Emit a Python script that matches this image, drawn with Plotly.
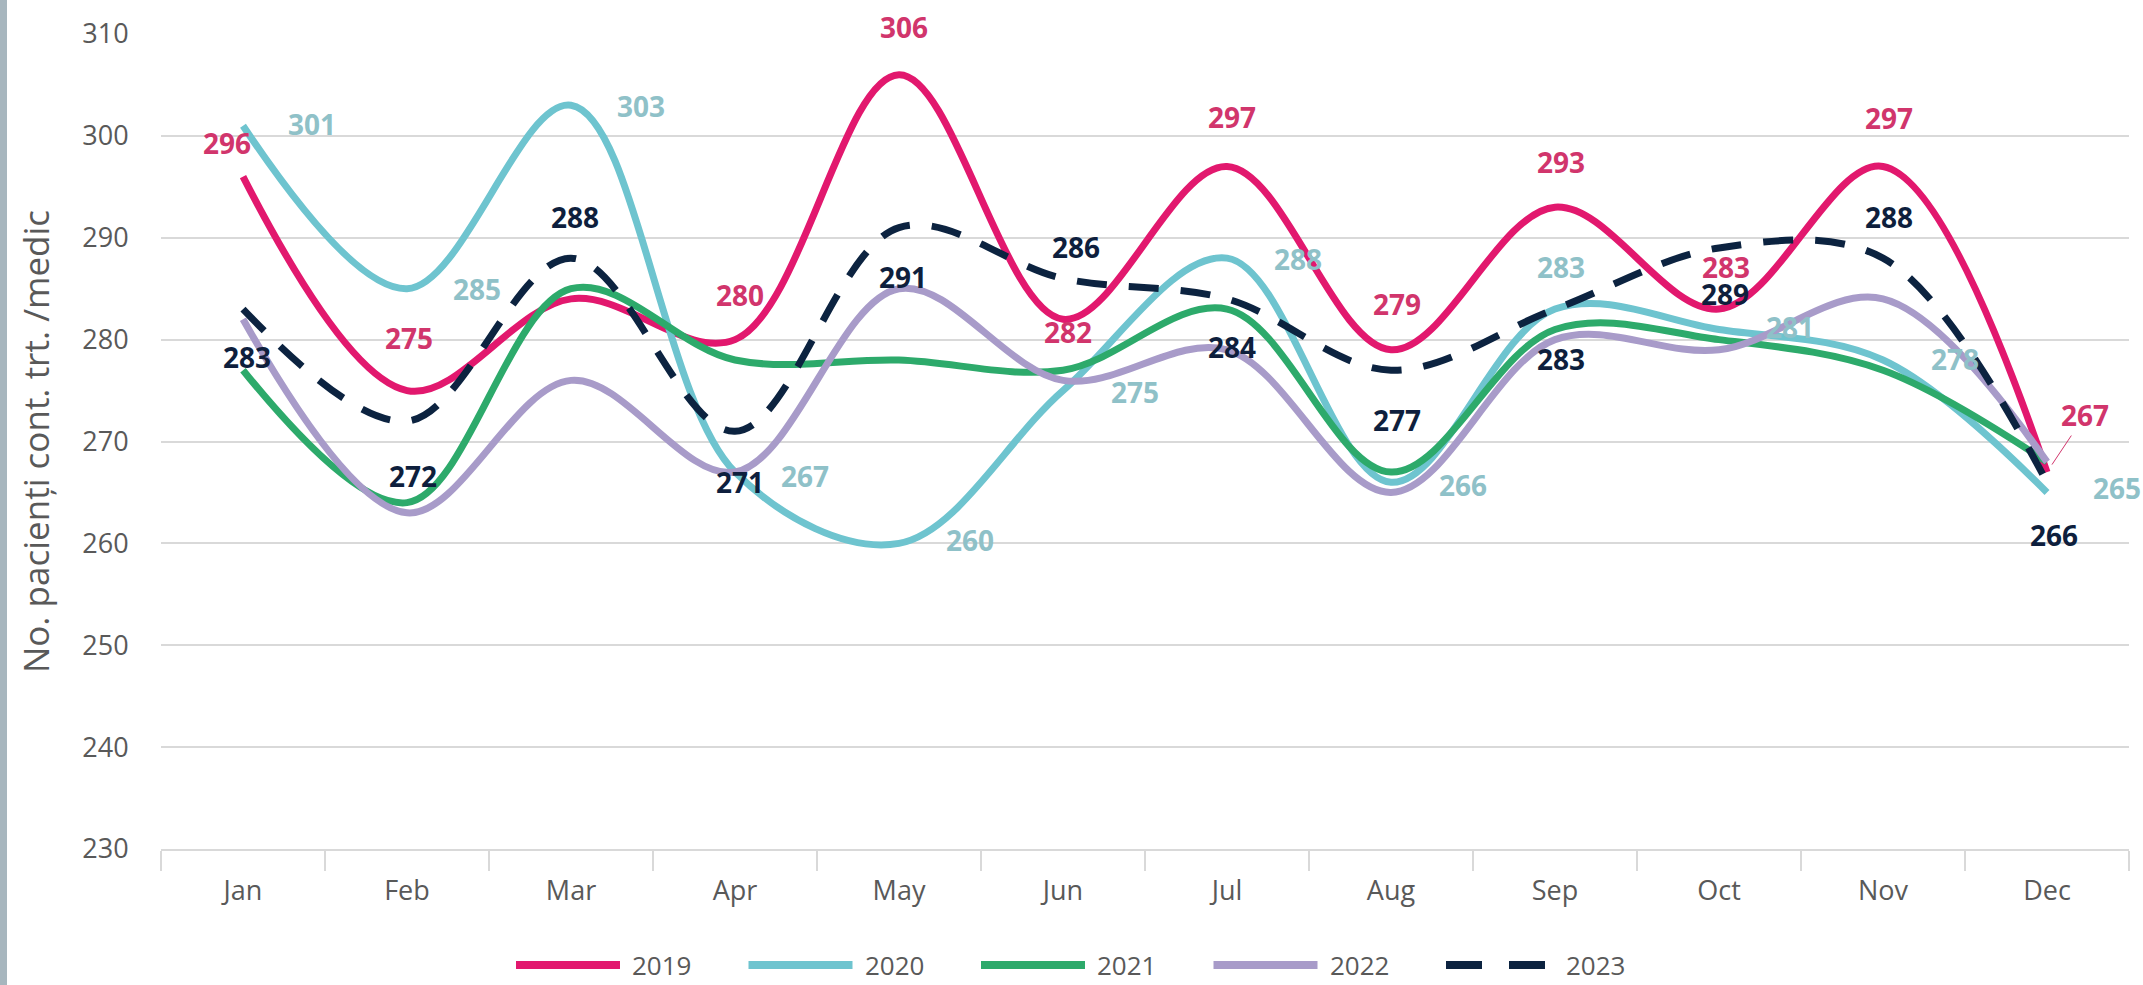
import plotly.graph_objects as go

# ---------------- data ----------------
months = ["Jan", "Feb", "Mar", "Apr", "May", "Jun", "Jul", "Aug", "Sep", "Oct", "Nov", "Dec"]
years = ["2019", "2020", "2021", "2022", "2023"]

v2019 = [296, 275, 284, 280, 306, 282, 297, 279, 293, 283, 297, 267]
v2020 = [301, 285, 303, 267, 260, 275, 288, 266, 283, 281, 278, 265]
v2021 = [277, 264, 285, 278, 278, 277, 283, 267, 281, 280, 277, 268]
v2022 = [282, 263, 276, 267, 285, 276, 279, 265, 280, 279, 284, 268]
v2023 = [283, 272, 288, 271, 291, 286, 284, 277, 283, 289, 288, 266]

y_ticks = [230, 240, 250, 260, 270, 280, 290, 300, 310]
y_title = "No. pacienți cont. trt. /medic"

# ---------------- styles ----------------
line_colors = ["#E2186E", "#6EC4CF", "#2DAA6B", "#A89BC9", "#0C2340"]
label_colors = ["#D1356C", "#8FC1C8", "#2DAA6B", "#A89BC9", "#0E1F3D"]
dashes = ["solid", "solid", "solid", "solid", "30px,22px"]
legend_dashes = ["solid", "solid", "solid", "solid", "36px,27px"]
widths = [7, 7, 7, 7, 7]

# label offsets in pixels (dx right, dy down); None = no label
off2019 = [(-16, -34), (2, -53), None, (5, -45), (5, -48), (5, 13), (5, -49), (6, -46),
           (6, -45), (7, -42), (6, -48), "leader"]
off2020 = [(69, -2), (70, 0), (70, 1), (70, 4), (71, -3), (72, 1), (71, 1), (72, 3),
           (6, -42), (71, -2), (72, -1), (70, -4)]
off2021 = [None] * 12
off2022 = [None] * 12
off2023 = [(4, 48), (6, 55), (4, -41), (5, 51), (4, 49), (13, -32), (5, 48), (6, 50),
           (6, 50), (6, 46), (6, -41), (7, 53)]

series = [v2019, v2020, v2021, v2022, v2023]
offsets = [off2019, off2020, off2021, off2022, off2023]

W, H = 2143, 985
L, R, T, B = 161, 14, 34, 136
PW, PH = W - L - R, H - T - B
FONT = "Open Sans"
GREY = "#595959"


def px_x(p):
    return (p - L) / PW


def px_y(p):
    return (H - B - p) / PH


fig = go.Figure()
for name, vals, col, dsh, wd in zip(years, series, line_colors, dashes, widths):
    fig.add_trace(go.Scatter(
        x=months, y=vals, name=name, mode="lines",
        line=dict(color=col, width=wd, dash=dsh, shape="spline", smoothing=1.0),
        hoverinfo="x+y+name",
    ))

annotations = []
for vals, offs, lc in zip(series, offsets, label_colors):
    for m, v, o in zip(months, vals, offs):
        if o is None:
            continue
        if o == "leader":
            annotations.append(dict(
                x=m, y=v, xref="x", yref="y", text=f"<b>{v}</b>",
                showarrow=True, arrowhead=0, arrowwidth=1, arrowcolor=lc,
                ax=38, ay=-57, standoff=9,
                font=dict(family=FONT, size=28, color=lc),
            ))
            continue
        dx, dy = o
        annotations.append(dict(
            x=m, y=v, xref="x", yref="y", text=f"<b>{v}</b>",
            showarrow=False, xshift=dx, yshift=-dy,
            font=dict(family=FONT, size=28, color=lc),
        ))

shapes = []
# left grey strip of the slide
shapes.append(dict(type="rect", xref="paper", yref="paper",
                   x0=px_x(0), x1=px_x(7), y0=px_y(H), y1=px_y(0),
                   fillcolor="#A7B6BE", line=dict(width=0), layer="below"))

# custom legend
leg_x0, leg_step, leg_len, leg_gap, leg_y = 516, 232.5, 104, 11, 965
for i, (name, col, dsh) in enumerate(zip(years, line_colors, legend_dashes)):
    x0 = leg_x0 + i * leg_step
    ln = leg_len if dsh == "solid" else 99
    shapes.append(dict(type="line", xref="paper", yref="paper",
                       x0=px_x(x0), x1=px_x(x0 + ln), y0=px_y(leg_y), y1=px_y(leg_y),
                       line=dict(color=col, width=8, dash=dsh)))
    tx = x0 + leg_len + leg_gap + (4 if dsh != "solid" else 0)
    annotations.append(dict(x=px_x(tx), y=px_y(leg_y), xref="paper", yref="paper",
                            xanchor="left", yanchor="middle", showarrow=False, text=name,
                            borderpad=0,
                            font=dict(family=FONT, size=26, color=GREY)))

fig.update_layout(
    width=W, height=H,
    margin=dict(l=L, r=R, t=T, b=B, autoexpand=False),
    plot_bgcolor="white", paper_bgcolor="white",
    showlegend=False,
    font=dict(family=FONT, color=GREY),
    annotations=annotations,
    shapes=shapes,
    xaxis=dict(
        type="category", range=[-0.5, 11.5], showgrid=False,
        showline=True, linecolor="#D9D9D9", linewidth=2,
        ticks="outside", tickson="boundaries", ticklen=20, tickwidth=1.5, tickcolor="#D9D9D9",
        ticklabelstandoff=17,
        tickfont=dict(family=FONT, size=27, color=GREY), automargin=False,
    ),
    yaxis=dict(
        range=[230, 310], tickvals=y_ticks, showgrid=True, gridcolor="#D9D9D9", gridwidth=1.5,
        zeroline=False, showline=False,
        ticks="outside", ticklen=26, tickcolor="rgba(0,0,0,0)",
        tickfont=dict(family=FONT, size=27, color=GREY), automargin=False,
        title=dict(text=y_title, font=dict(family=FONT, size=35, color=GREY), standoff=22),
    ),
)

fig.write_html("out.html", config={"displayModeBar": False},
               post_script="document.body.style.margin='0';document.body.style.padding='0';")
